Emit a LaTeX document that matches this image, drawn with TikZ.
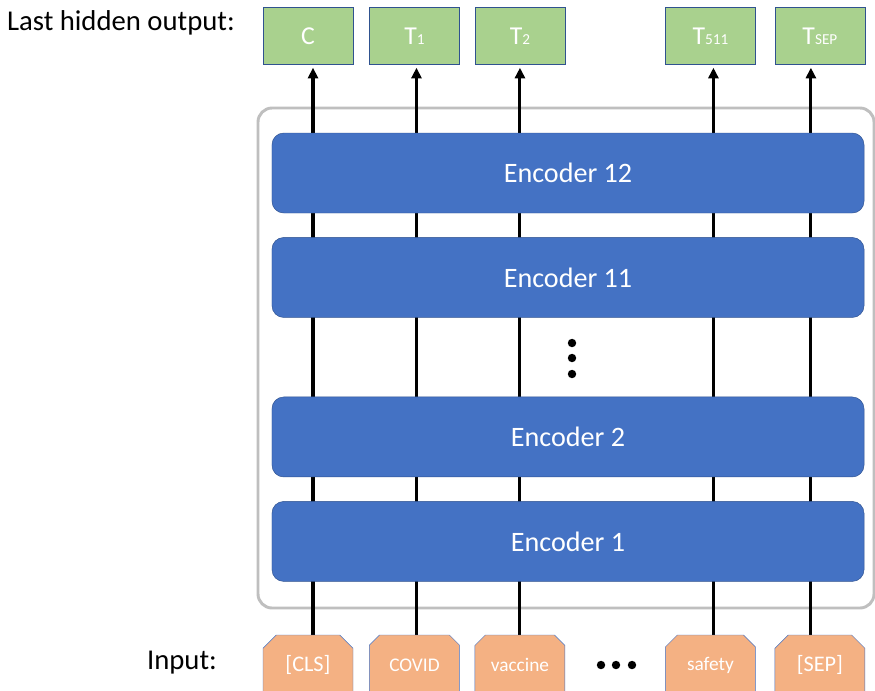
\documentclass[tikz,border=0pt]{standalone}
\usepackage{fontspec}
\setmainfont{Carlito}
\usetikzlibrary{positioning, arrows.meta, calc, shapes.misc, backgrounds}

\definecolor{encblue}{HTML}{4472C4}
\definecolor{encline}{HTML}{2F528F}
\definecolor{outgreen}{HTML}{A9D18E}
\definecolor{inorange}{HTML}{F4B183}
\definecolor{framegray}{HTML}{BFBFBF}

\newcommand{\sm}[1]{{\fontsize{13}{13}\selectfont #1}}

\begin{document}
\begin{tikzpicture}[
  x=0.03cm, y=-0.03cm,
  enc/.style={rectangle, rounded corners=10pt, draw=encline, fill=encblue, text=white,
    minimum width=17.76cm, minimum height=2.4cm, font=\fontsize{24}{28}\selectfont},
  outbox/.style={rectangle, draw=encline, fill=outgreen, text=white,
    minimum width=2.7cm, minimum height=1.71cm, font=\fontsize{22}{24}\selectfont},
  inbox/.style={chamfered rectangle, chamfered rectangle corners={north west, north east},
    chamfered rectangle xsep=0.3cm, draw=encblue, fill=inorange, text=white,
    minimum width=2.7cm, minimum height=1.8cm, inner sep=0pt},
  flow/.style={-{Triangle[length=9pt, width=8.5pt]}, line width=2.6pt},
  frame/.style={draw=framegray, line width=2.5pt, rounded corners=12pt}
]
  \useasboundingbox (0,0) rectangle (875,690);

  % last hidden outputs
  \node[outbox] (o1) at (308,36) {C};
  \node[outbox, right=0.48cm of o1] (o2) {T\sm{1}};
  \node[outbox, right=0.45cm of o2] (o3) {T\sm{2}};
  \node[outbox, right=3cm of o3] (o4) {T\sm{511}};
  \node[outbox, right=0.57cm of o4] (o5) {T\sm{SEP}};

  % input tokens
  \foreach \k/\t in {1/{\fontsize{19}{21}\selectfont [CLS]}, 2/{\fontsize{16.5}{19}\selectfont COVID},
                     3/{\fontsize{16.5}{19}\selectfont vaccine}, 4/{\fontsize{16.5}{19}\selectfont safety},
                     5/{\fontsize{19}{21}\selectfont [SEP]}}
    \node[inbox] (i\k) at (o\k |- 0,665) {\t};

  % encoder stack
  \node[enc] (e12) at (568,173) {Encoder 12};
  \node[enc, below=0.72cm of e12] (e11) {Encoder 11};
  \node[enc, below=2.37cm of e11] (e2) {Encoder 2};
  \node[enc, below=0.72cm of e2] (e1) {Encoder 1};

  \begin{scope}[on background layer]
    \draw[frame] (258,108) rectangle (874,608);
    \foreach \k/\dx in {1/5, 2/2, 3/0, 4/3, 5/-9}
      \draw[flow] ($(i\k.north)+(\dx,0)$) -- ($(o\k.south)+(\dx,3)$);
  \end{scope}

  % dots
  \foreach \y in {343, 358, 374}
    \fill (572,\y) circle (3.6pt);
  \foreach \x in {601, 616, 632}
    \fill (\x,665) circle (3.6pt);

  \node[anchor=east, font=\fontsize{24.5}{28}\selectfont] (lblout) at (239,23) {Last hidden output:};
  \node[anchor=east, font=\fontsize{24.5}{28}\selectfont] (lblin) at (221,663) {Input:};
\end{tikzpicture}
\end{document}
